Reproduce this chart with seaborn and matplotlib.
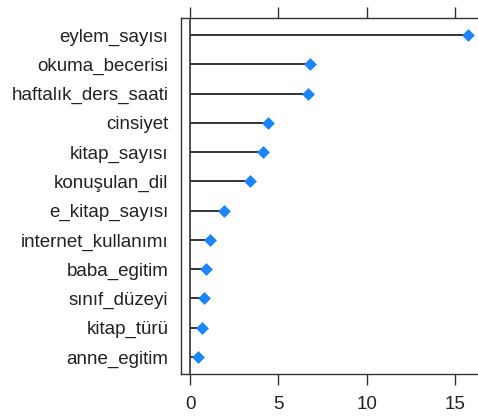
import numpy as np
import matplotlib
matplotlib.use("Agg")
import matplotlib.pyplot as plt
import seaborn as sns
import pandas as pd

# variable importance values (top to bottom)
variables = ["eylem_sayısı", "okuma_becerisi", "haftalık_ders_saati", "cinsiyet",
             "kitap_sayısı", "konuşulan_dil", "e_kitap_sayısı", "internet_kullanımı",
             "baba_egitim", "sınıf_düzeyi", "kitap_türü", "anne_egitim"]
importance = [15.72, 6.80, 6.65, 4.42, 4.14, 3.39, 1.94, 1.13, 0.89, 0.77, 0.70, 0.47]
xticks = [0, 5, 10, 15]

sns.set_style("white")
plt.rcParams["font.family"] = ["Liberation Sans", "DejaVu Sans"]

df = pd.DataFrame({"variable": variables, "importance": importance})
df["pos"] = np.arange(len(df))[::-1]

fig = plt.figure(figsize=(4.78, 4.18), dpi=100)
ax = fig.add_axes([181 / 478, 1 - 374.3 / 418, (480 - 181) / 478, (374.3 - 18.3) / 418])

ax.hlines(df["pos"], 0, df["importance"], color="#333333", linewidth=1.4, zorder=2)
ax.axvline(0, color="#333333", linewidth=1.2, zorder=2)
sns.scatterplot(data=df, x="importance", y="pos", marker="D", s=36,
                color="#1a85ff", edgecolor="#1a85ff", linewidth=0.5, ax=ax, zorder=3)

ax.set_xlim(-0.51, 16.4)
ax.set_ylim(-0.59, len(df) - 1 + 0.57)
ax.set_yticks(df["pos"])
ax.set_yticklabels(df["variable"])
ax.set_xticks(xticks)
ax.set_xlabel("")
ax.set_ylabel("")

ax.tick_params(axis="x", top=True, bottom=True, labeltop=False, direction="out",
               length=7.9, width=1, color="#333333", pad=7.5,
               labelsize=13.5, labelcolor="#222222")
ax.tick_params(axis="y", left=False, length=0, pad=9, labelsize=13.5, labelcolor="#222222")

for side in ["left", "bottom", "top"]:
    ax.spines[side].set_color("#333333")
    ax.spines[side].set_linewidth(1)
ax.spines["right"].set_visible(False)

fig.savefig("out.png", dpi=100)
